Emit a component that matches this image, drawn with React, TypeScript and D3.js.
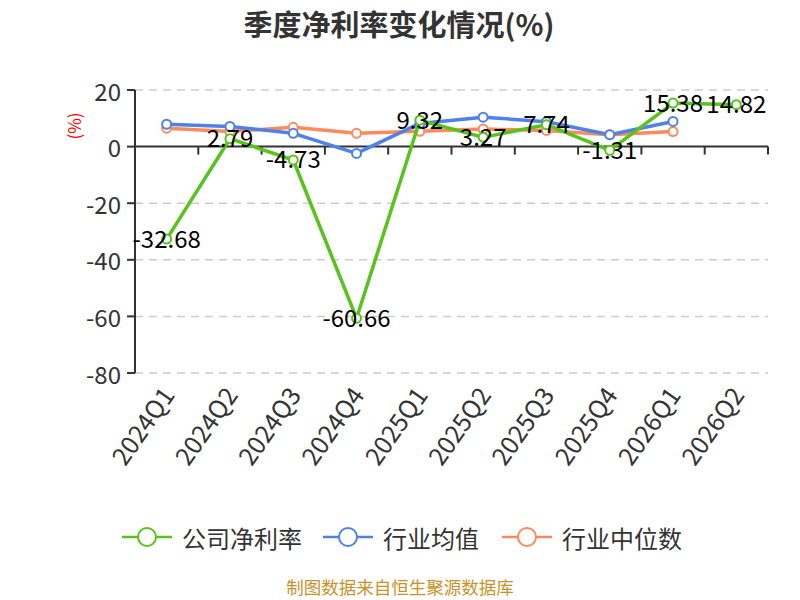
import { useEffect, useRef } from "react";
import * as d3 from "d3";

const quarters = [
  "2024Q1", "2024Q2", "2024Q3", "2024Q4", "2025Q1",
  "2025Q2", "2025Q3", "2025Q4", "2026Q1", "2026Q2",
];
const companyRate = [-32.68, 2.79, -4.73, -60.66, 9.32, 3.27, 7.74, -1.31, 15.38, 14.82];
const industryMean = [7.9, 7.1, 4.7, -2.4, 8.2, 10.4, 8.8, 4.2, 8.9];
const industryMedian = [6.5, 5.3, 6.8, 4.7, 5.4, 6.2, 5.7, 4.2, 5.3];
const yTicks = [20, 0, -20, -40, -60, -80];

const seriesNames = ["公司净利率", "行业均值", "行业中位数"];
const colors = ["#58c21e", "#4e82e8", "#fd8a5a"];

const FONT = "'Noto Sans CJK SC', 'Noto Sans', sans-serif";

export default function App() {
  const svgRef = useRef<SVGSVGElement | null>(null);

  useEffect(() => {
    if (!svgRef.current) return;
    const svg = d3.select(svgRef.current);
    svg.selectAll("*").remove();

    const left = 135;
    const right = 768;
    const top = 90;
    const bottom = 373;

    const x = d3.scaleBand<string>().domain(quarters).range([left, right]);
    const y = d3.scaleLinear().domain([-80, 20]).range([bottom, top]);
    const cx = (q: string) => (x(q) as number) + x.bandwidth() / 2;

    // title
    svg
      .append("text")
      .text("季度净利率变化情况(%)")
      .attr("x", 399)
      .attr("y", 23)
      .attr("text-anchor", "middle")
      .attr("dominant-baseline", "central")
      .attr("font-size", 29)
      .attr("font-weight", "bold")
      .attr("fill", "#333");

    // y unit
    svg
      .append("text")
      .text("(%)")
      .attr("transform", `translate(73,126) rotate(-90)`)
      .attr("text-anchor", "middle")
      .attr("dominant-baseline", "central")
      .attr("font-size", 17)
      .attr("fill", "#f00");

    // grid
    svg
      .append("g")
      .selectAll("line")
      .data(yTicks.filter((t) => t !== 0))
      .enter()
      .append("line")
      .attr("x1", left)
      .attr("x2", right)
      .attr("y1", (d) => y(d))
      .attr("y2", (d) => y(d))
      .attr("stroke", "#ccc")
      .attr("stroke-width", 1.5)
      .attr("stroke-dasharray", "8,6");

    // y axis
    const yAxis = svg.append("g");
    yAxis
      .append("line")
      .attr("x1", left)
      .attr("x2", left)
      .attr("y1", top)
      .attr("y2", bottom)
      .attr("stroke", "#333")
      .attr("stroke-width", 2);
    yTicks.forEach((t) => {
      yAxis
        .append("line")
        .attr("x1", left - 8)
        .attr("x2", left)
        .attr("y1", y(t))
        .attr("y2", y(t))
        .attr("stroke", "#333")
        .attr("stroke-width", 2);
      yAxis
        .append("text")
        .text(t)
        .attr("x", left - 14)
        .attr("y", y(t))
        .attr("text-anchor", "end")
        .attr("dominant-baseline", "central")
        .attr("font-size", 24)
        .attr("fill", "#333");
    });

    // x axis at zero
    const xAxis = svg.append("g");
    xAxis
      .append("line")
      .attr("x1", left)
      .attr("x2", right)
      .attr("y1", y(0))
      .attr("y2", y(0))
      .attr("stroke", "#333")
      .attr("stroke-width", 2);
    const boundaries = quarters.slice(1).map((q) => x(q) as number).concat([right]);
    boundaries.forEach((bx) => {
      xAxis
        .append("line")
        .attr("x1", bx)
        .attr("x2", bx)
        .attr("y1", y(0))
        .attr("y2", y(0) + 8)
        .attr("stroke", "#333")
        .attr("stroke-width", 2);
    });
    quarters.forEach((q) => {
      xAxis
        .append("text")
        .text(q)
        .attr("transform", `translate(${cx(q)},${bottom + 16}) rotate(-55)`)
        .attr("text-anchor", "end")
        .attr("dominant-baseline", "central")
        .attr("font-size", 25)
        .attr("fill", "#333");
    });

    // lines
    const allSeries = [companyRate, industryMean, industryMedian];
    const order = [2, 1, 0];
    order.forEach((si) => {
      const vals = allSeries[si];
      const pts = vals.map((v, i) => ({ q: quarters[i], v }));
      const line = d3
        .line<{ q: string; v: number }>()
        .x((d) => cx(d.q))
        .y((d) => y(d.v));
      svg
        .append("path")
        .datum(pts)
        .attr("fill", "none")
        .attr("stroke", colors[si])
        .attr("stroke-width", 3.5)
        .attr("stroke-linejoin", "round")
        .attr("d", line);
      svg
        .append("g")
        .selectAll("circle")
        .data(pts)
        .enter()
        .append("circle")
        .attr("cx", (d) => cx(d.q))
        .attr("cy", (d) => y(d.v))
        .attr("r", 4.5)
        .attr("fill", "#fff")
        .attr("stroke", colors[si])
        .attr("stroke-width", 2);
    });

    // data labels
    svg
      .append("g")
      .selectAll("text")
      .data(companyRate.map((v, i) => ({ q: quarters[i], v })))
      .enter()
      .append("text")
      .text((d) => d.v.toFixed(2))
      .attr("x", (d) => cx(d.q))
      .attr("y", (d) => y(d.v) - 2)
      .attr("text-anchor", "middle")
      .attr("dominant-baseline", "central")
      .attr("font-size", 24)
      .attr("fill", "#000");

    // legend
    const legendX = [122, 323, 502];
    const legendY = 537;
    seriesNames.forEach((name, i) => {
      const g = svg.append("g");
      g.append("line")
        .attr("x1", legendX[i])
        .attr("x2", legendX[i] + 50)
        .attr("y1", legendY)
        .attr("y2", legendY)
        .attr("stroke", colors[i])
        .attr("stroke-width", 2.5);
      g.append("circle")
        .attr("cx", legendX[i] + 25)
        .attr("cy", legendY)
        .attr("r", 9)
        .attr("fill", "#fff")
        .attr("stroke", colors[i])
        .attr("stroke-width", 2);
      g.append("text")
        .text(name)
        .attr("x", legendX[i] + 60)
        .attr("y", legendY)
        .attr("dominant-baseline", "central")
        .attr("font-size", 24)
        .attr("fill", "#333");
    });

    // source
    svg
      .append("text")
      .text("制图数据来自恒生聚源数据库")
      .attr("x", 400)
      .attr("y", 586)
      .attr("text-anchor", "middle")
      .attr("dominant-baseline", "central")
      .attr("font-size", 17.5)
      .attr("fill", "#c8922a");
  }, []);

  return (
    <svg
      ref={svgRef}
      width={800}
      height={600}
      style={{ position: "absolute", left: 0, top: 0, fontFamily: FONT, background: "#fff" }}
    />
  );
}
